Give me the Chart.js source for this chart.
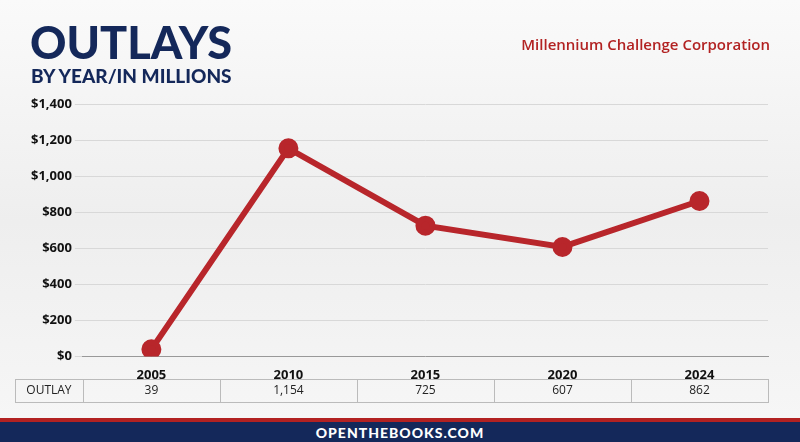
<!DOCTYPE html>
<html>
<head>
<meta charset="utf-8">
<script src="https://cdn.jsdelivr.net/npm/chart.js@4/dist/chart.umd.min.js"></script>
<style>
  body { margin: 0; width: 800px; height: 442px; overflow: hidden; font-family: "Open Sans", sans-serif;
    background: linear-gradient(180deg, #fafafa 0%, #eeeeee 50%, #f7f7f7 100%); position: relative; }
  #title { position: absolute; left: 30px; top: 20px; color: #14285a; font-size: 45px; line-height: 44px; font-family: "Lato", sans-serif; font-weight: 900; }
  #sub { position: absolute; left: 31px; top: 64px; color: #14285a; font-size: 19px; font-weight: 900; font-family: "Lato", sans-serif; }
  #agency { position: absolute; right: 30px; top: 34px; color: #b22222; font-size: 15px; font-weight: 600; }
  #footer { position: absolute; left: 0; top: 418px; width: 800px; height: 24px; background: #14285a; border-top: 4px solid #b22222;
    color: #fff; text-align: center; font-weight: 900; font-size: 14px; line-height: 22px; letter-spacing: 1px; font-family: "Lato", sans-serif; box-sizing: border-box; }
  canvas { position: absolute; left: 0; top: 0; }
</style>
</head>
<body>
<canvas id="c" width="800" height="442"></canvas>
<div id="title">OUTLAYS</div>
<div id="sub">BY YEAR/IN MILLIONS</div>
<div id="agency">Millennium Challenge Corporation</div>
<div id="footer">OPENTHEBOOKS.COM</div>
<script>
const years = ['2005', '2010', '2015', '2020', '2024'];
const outlays = [39, 1154, 725, 607, 862];
const rowLabel = 'OUTLAY';

const tablePlugin = {
  id: 'table',
  afterDraw(chart) {
    const ctx = chart.ctx, x = chart.scales.x, area = chart.chartArea;
    const top = 379, bot = 402, left = 15;
    ctx.save();
    ctx.strokeStyle = '#bbb';
    ctx.lineWidth = 1;
    ctx.strokeRect(left + 0.5, top + 0.5, area.right - left, bot - top);
    const band = (x.getPixelForValue(1) - x.getPixelForValue(0));
    ctx.beginPath();
    for (let i = 0; i <= years.length; i++) {
      const px = Math.round(x.getPixelForValue(0) - band / 2 + i * band) + 0.5;
      ctx.moveTo(px, top);
      ctx.lineTo(px, bot);
    }
    ctx.stroke();
    ctx.fillStyle = '#222';
    ctx.font = '12px "Open Sans"';
    ctx.textAlign = 'center';
    ctx.textBaseline = 'middle';
    ctx.fillText(rowLabel, (left + area.left) / 2, (top + bot) / 2);
    outlays.forEach((v, i) => ctx.fillText(v.toLocaleString('en-US'), x.getPixelForValue(i), (top + bot) / 2));
    ctx.restore();
  }
};

new Chart(document.getElementById('c'), {
  type: 'line',
  data: {
    labels: years,
    datasets: [{
      data: outlays,
      borderColor: '#b8262b',
      backgroundColor: '#b8262b',
      borderWidth: 6,
      pointRadius: 7,
      tension: 0
    }]
  },
  options: {
    responsive: false,
    animation: false,
    layout: { padding: { top: 104, bottom: 56, left: 28, right: 32 } },
    plugins: { legend: { display: false }, tooltip: { enabled: false } },
    scales: {
      x: {
        offset: true,
        grid: { display: false },
        border: { color: '#999' },
        ticks: { color: '#111', font: { family: 'Open Sans', weight: 'bold', size: 13 } }
      },
      y: {
        min: 0, max: 1400,
        ticks: { stepSize: 200, color: '#111', font: { family: 'Open Sans', weight: 'bold', size: 13 },
          callback: v => '$' + v.toLocaleString('en-US') },
        grid: { color: '#d8d8d8' },
        border: { display: false }
      }
    }
  },
  plugins: [tablePlugin]
});
</script>
</body>
</html>
